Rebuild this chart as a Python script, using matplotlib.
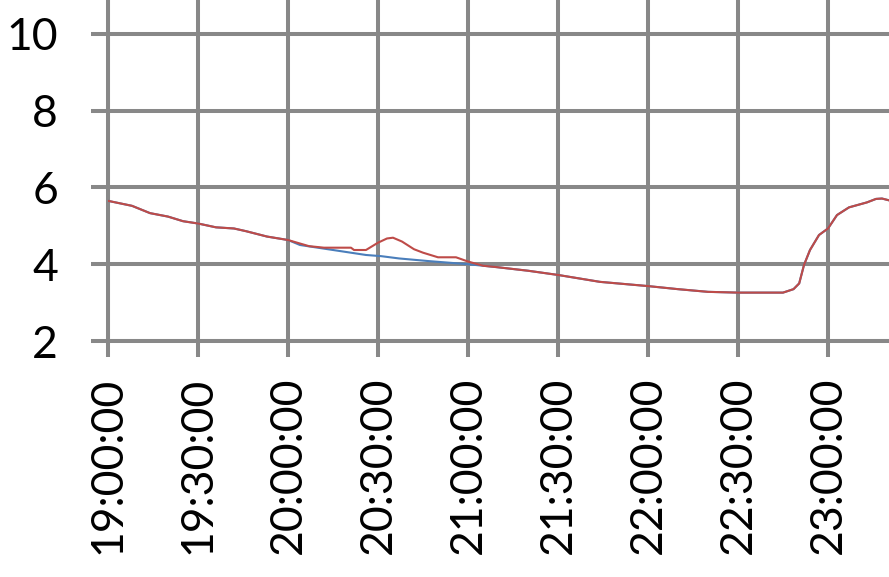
import matplotlib
matplotlib.use("Agg")
import matplotlib.pyplot as plt
import numpy as np

# minutes after 19:00
red_t = [0, 8, 14, 20, 25, 30, 36, 42, 46, 53, 60, 67, 72, 81, 82, 86, 90, 93, 95, 98, 102, 105, 110, 116, 120, 125, 130,
         140, 150, 164, 180, 190, 200, 210, 225, 228.5, 230.4, 232, 234, 237, 240, 243, 247, 253, 256, 258, 261]
red_v = [5.65, 5.52, 5.33, 5.24, 5.12, 5.06, 4.96, 4.93, 4.86, 4.72, 4.63, 4.47, 4.43, 4.43, 4.37, 4.37, 4.56, 4.67, 4.69, 4.59, 4.39, 4.30, 4.18, 4.18, 4.07, 3.96, 3.92,
         3.83, 3.72, 3.54, 3.43, 3.35, 3.28, 3.26, 3.26, 3.35, 3.50, 3.98, 4.37, 4.76, 4.93, 5.28, 5.48, 5.61, 5.70, 5.71, 5.65]

blue_t = [0, 8, 14, 20, 25, 30, 36, 42, 46, 53, 60, 64, 75, 86, 91, 97, 107, 120, 125, 130,
          140, 150, 164, 180, 190, 200, 210, 225, 228.5, 230.4, 232, 234, 237, 240, 243, 247, 253, 256, 258, 261]
blue_v = [5.65, 5.52, 5.33, 5.24, 5.12, 5.06, 4.96, 4.93, 4.86, 4.72, 4.63, 4.50, 4.37, 4.24, 4.21, 4.15, 4.08, 4.00, 3.96, 3.92,
          3.83, 3.72, 3.54, 3.43, 3.35, 3.28, 3.26, 3.26, 3.35, 3.50, 3.98, 4.37, 4.76, 4.93, 5.28, 5.48, 5.61, 5.70, 5.71, 5.65]

tick_pos = [0, 30, 60, 90, 120, 150, 180, 210, 240]
tick_labels = ["19:00:00", "19:30:00", "20:00:00", "20:30:00", "21:00:00",
               "21:30:00", "22:00:00", "22:30:00", "23:00:00"]
y_ticks = [2, 4, 6, 8, 10]

plt.rcParams['font.family'] = ['Lato', 'DejaVu Sans']

fig = plt.figure(figsize=(8.89, 5.77), dpi=100)
ax = fig.add_axes([108/889, (577-341)/577, 1-108/889, 341/577])

grid_c = "#888888"
ax.plot(blue_t, blue_v, color="#4A7EBB", lw=1.5, zorder=3)
ax.plot(red_t, red_v, color="#BE4B48", lw=1.5, zorder=4)

ax.set_xlim(0, (889-108)/3)
ax.set_ylim(2, 2 + 341/38.4)
ax.set_xticks(tick_pos)
ax.set_xticklabels(tick_labels, rotation=90, fontsize=32)
ax.set_yticks(y_ticks)
ax.set_yticklabels([str(v) for v in y_ticks], fontsize=32)
ax.grid(True, color=grid_c, lw=2.9)
ax.set_axisbelow(True)
for s in ["top", "right"]:
    ax.spines[s].set_visible(False)
for s in ["left", "bottom"]:
    ax.spines[s].set_color(grid_c)
    ax.spines[s].set_linewidth(2.9)
ax.tick_params(axis='x', length=11.5, width=2.9, color=grid_c, pad=14)
ax.tick_params(axis='y', length=12, width=2.9, color=grid_c, pad=24)

fig.savefig("out.png", dpi=100)
